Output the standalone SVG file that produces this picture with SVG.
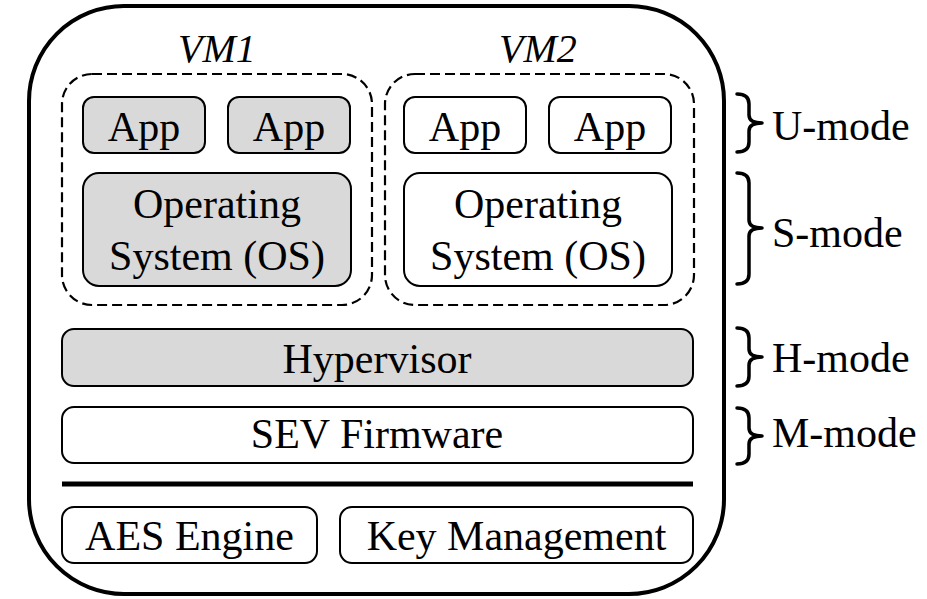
<svg xmlns="http://www.w3.org/2000/svg" width="927" height="599" viewBox="0 0 927 599">
  <rect width="927" height="599" fill="#fff"/>

  <!-- enclosing platform outline -->
  <g id="platform">
    <rect x="29" y="6" width="695" height="588" rx="95" ry="95" fill="none" stroke="#000" stroke-width="4"/>
  </g>

  <!-- guest VM 1 (protected, shaded) -->
  <g id="vm1">
    <text style="font-family:'Liberation Serif',serif" font-size="40" font-style="italic" text-anchor="middle" x="217" y="62">VM1</text>
    <rect x="62" y="74" width="310" height="231" rx="30" fill="none" stroke="#000" stroke-width="2.2" stroke-dasharray="10 5"/>
  </g>
  <g id="vm1-app1">
    <rect x="83" y="97" width="122" height="56" rx="11" fill="#d9d9d9" stroke="#000" stroke-width="2"/>
    <text style="font-family:'Liberation Serif',serif" font-size="42" text-anchor="middle" x="144" y="141">App</text>
  </g>
  <g id="vm1-app2">
    <rect x="228" y="97" width="122" height="56" rx="11" fill="#d9d9d9" stroke="#000" stroke-width="2"/>
    <text style="font-family:'Liberation Serif',serif" font-size="42" text-anchor="middle" x="289" y="141">App</text>
  </g>
  <g id="vm1-os">
    <rect x="83" y="173" width="268" height="113" rx="16" fill="#d9d9d9" stroke="#000" stroke-width="2"/>
    <text style="font-family:'Liberation Serif',serif" font-size="42" text-anchor="middle" x="217" y="218">Operating</text>
    <text style="font-family:'Liberation Serif',serif" font-size="42" text-anchor="middle" x="217" y="270">System (OS)</text>
  </g>

  <!-- guest VM 2 -->
  <g id="vm2">
    <text style="font-family:'Liberation Serif',serif" font-size="40" font-style="italic" text-anchor="middle" x="538" y="62">VM2</text>
    <rect x="385" y="74" width="309" height="231" rx="30" fill="none" stroke="#000" stroke-width="2.2" stroke-dasharray="10 5"/>
  </g>
  <g id="vm2-app1">
    <rect x="404" y="97" width="122" height="56" rx="11" fill="#fff" stroke="#000" stroke-width="2"/>
    <text style="font-family:'Liberation Serif',serif" font-size="42" text-anchor="middle" x="465" y="141">App</text>
  </g>
  <g id="vm2-app2">
    <rect x="549" y="97" width="122" height="56" rx="11" fill="#fff" stroke="#000" stroke-width="2"/>
    <text style="font-family:'Liberation Serif',serif" font-size="42" text-anchor="middle" x="610" y="141">App</text>
  </g>
  <g id="vm2-os">
    <rect x="404" y="173" width="268" height="113" rx="16" fill="#fff" stroke="#000" stroke-width="2"/>
    <text style="font-family:'Liberation Serif',serif" font-size="42" text-anchor="middle" x="538" y="218">Operating</text>
    <text style="font-family:'Liberation Serif',serif" font-size="42" text-anchor="middle" x="538" y="270">System (OS)</text>
  </g>

  <!-- privileged layers -->
  <g id="hypervisor">
    <rect x="62" y="329" width="631" height="57" rx="12" fill="#d9d9d9" stroke="#000" stroke-width="2"/>
    <text style="font-family:'Liberation Serif',serif" font-size="42" text-anchor="middle" x="377" y="373">Hypervisor</text>
  </g>
  <g id="sev-firmware">
    <rect x="62" y="407" width="631" height="56" rx="12" fill="#fff" stroke="#000" stroke-width="2"/>
    <text style="font-family:'Liberation Serif',serif" font-size="42" text-anchor="middle" x="377" y="448">SEV Firmware</text>
  </g>

  <!-- hardware boundary -->
  <g id="hw-boundary">
    <line x1="62" y1="484" x2="693" y2="484" stroke="#000" stroke-width="5"/>
  </g>

  <g id="aes-engine">
    <rect x="62" y="507" width="255" height="56" rx="12" fill="#fff" stroke="#000" stroke-width="2"/>
    <text style="font-family:'Liberation Serif',serif" font-size="42" text-anchor="middle" x="189.5" y="550">AES Engine</text>
  </g>
  <g id="key-management">
    <rect x="340" y="507" width="353" height="56" rx="12" fill="#fff" stroke="#000" stroke-width="2"/>
    <text style="font-family:'Liberation Serif',serif" font-size="42" text-anchor="middle" x="516.5" y="550">Key Management</text>
  </g>

  <!-- privilege-mode braces -->
  <g id="connectors" fill="none" stroke="#000" stroke-width="3.5" stroke-linecap="round" stroke-linejoin="round">
    <path d="M737 94 Q749 94 749 104 L749 115 Q749 123 762 123 Q749 123 749 131 L749 142 Q749 152 737 152"/>
    <path d="M737 173 Q749 173 749 183 L749 220 Q749 228 762 228 Q749 228 749 236 L749 274 Q749 284 737 284"/>
    <path d="M737 328 Q749 328 749 338 L749 349 Q749 357 762 357 Q749 357 749 365 L749 376 Q749 386 737 386"/>
    <path d="M737 408 Q749 408 749 418 L749 428 Q749 436 762 436 Q749 436 749 444 L749 454 Q749 464 737 464"/>
  </g>

  <g id="u-mode"><text style="font-family:'Liberation Serif',serif" font-size="42" x="772" y="140">U-mode</text></g>
  <g id="s-mode"><text style="font-family:'Liberation Serif',serif" font-size="42" x="772" y="247">S-mode</text></g>
  <g id="h-mode"><text style="font-family:'Liberation Serif',serif" font-size="42" x="772" y="372">H-mode</text></g>
  <g id="m-mode"><text style="font-family:'Liberation Serif',serif" font-size="42" x="772" y="447">M-mode</text></g>
</svg>
